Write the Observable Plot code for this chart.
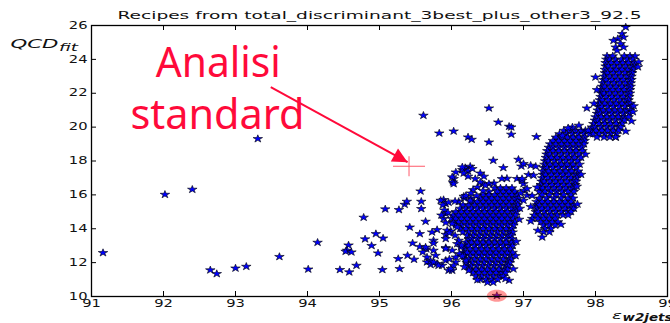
<!DOCTYPE html>
<html>
<head>
<meta charset="utf-8">
<script src="https://cdn.jsdelivr.net/npm/d3@7"></script>
<script src="https://cdn.jsdelivr.net/npm/@observablehq/plot@0.6"></script>
<style>
  html, body { margin: 0; padding: 0; background: #fff; }
  #chart { width: 670px; height: 323px; overflow: hidden; }
</style>
</head>
<body>
<div id="chart"></div>
<script>
// ---- labels and ticks ----
const title = "Recipes from total_discriminant_3best_plus_other3_92.5";
const xTicks = [91, 92, 93, 94, 95, 96, 97, 98, 99];
const yTicks = [10, 12, 14, 16, 18, 20, 22, 24, 26];
const noteLines = ["Analisi", "standard"];
const noteX = [92.76, 92.75];
const noteY = [22.95, 19.9];

// ---- isolated recipes, [eff, qcd] ----
const scattered = [
  [91.16, 12.58], [92.02, 16.02], [92.40, 16.32], [92.65, 11.56], [92.74, 11.34],
  [93.00, 11.67], [93.15, 11.77], [93.31, 19.31], [93.61, 12.35], [94.01, 11.61],
  [94.14, 13.19], [94.45, 11.58], [94.58, 11.44], [94.68, 11.83], [94.57, 13.03],
  [94.55, 12.72], [94.53, 12.66], [94.61, 12.62], [94.78, 14.67], [94.80, 13.39],
  [94.89, 13.00], [94.95, 13.70], [94.98, 12.56], [95.04, 11.58], [95.05, 13.44],
  [95.08, 15.16], [95.26, 12.23], [95.27, 15.12], [95.28, 11.64], [95.35, 15.43],
  [95.38, 15.61], [95.39, 12.42], [95.42, 14.09], [95.46, 13.15], [95.48, 12.19],
  [95.56, 13.70], [95.56, 12.94], [95.57, 16.22], [95.58, 15.61], [95.58, 15.18],
  [95.64, 14.43], [95.65, 12.80], [95.66, 12.32], [95.66, 12.03], [95.71, 11.87],
  [95.75, 12.72], [95.75, 13.31], [95.78, 12.42], [95.80, 11.93], [95.80, 13.94],
  [95.61, 20.69], [95.83, 19.64], [96.03, 19.76], [96.23, 19.41], [96.28, 19.27],
  [96.52, 21.12], [96.52, 19.11], [96.65, 20.29], [96.80, 20.04], [96.83, 20.00],
  [96.83, 19.57], [97.18, 19.43], [97.88, 21.12],
  [96.58, 18.03], [96.72, 17.60], [96.93, 18.09], [96.97, 17.69], [97.17, 17.68],
  [97.07, 17.19], [97.00, 16.65], [96.91, 16.95], [96.77, 16.97], [96.70, 16.95],
  [97.01, 16.26], [97.05, 15.97], [97.00, 15.67], [96.98, 16.85], [97.14, 17.15],
  [97.05, 16.36], [97.19, 16.45], [97.00, 17.84], [97.10, 17.74], [96.98, 16.95],
  [95.73, 13.80], [95.92, 12.88], [95.92, 12.13], [96.01, 11.54], [95.71, 12.09],
  [95.60, 12.62], [95.92, 13.66], [95.99, 13.86], [96.05, 13.60], [96.10, 13.31],
  [96.13, 12.91], [96.11, 12.52], [96.20, 12.13], [96.24, 11.54], [96.06, 12.03],
  [95.97, 12.20], [95.87, 11.83], [95.96, 11.54], [95.92, 13.41], [95.75, 13.15],
  [95.64, 12.91], [95.75, 12.03], [96.06, 12.32], [96.03, 11.83], [95.99, 11.64],
  [95.82, 11.83], [96.01, 12.72], [95.92, 12.82], [96.08, 13.11], [95.94, 13.90],
  [96.01, 14.29], [96.08, 14.09], [96.80, 10.95], [96.75, 11.05], [96.36, 10.98],
  [96.90, 13.25], [96.89, 12.40], [96.86, 11.62], [96.15, 12.38], [96.14, 13.02],
  [96.95, 15.20], [96.96, 16.10], [96.94, 14.55], [96.18, 11.75],
  [96.26, 17.68], [96.19, 17.60], [96.15, 17.48], [96.23, 17.40], [96.17, 17.28],
  [96.06, 17.34], [96.03, 16.95], [96.02, 16.75], [96.23, 17.09], [96.40, 17.28],
  [96.45, 17.09], [96.59, 16.69], [96.52, 16.65], [96.43, 16.65], [96.36, 16.45],
  [96.30, 16.30], [96.17, 15.91], [95.89, 15.71], [95.85, 15.67], [95.92, 14.89],
  [95.89, 14.59], [96.15, 17.64], [96.29, 17.54], [96.01, 17.05], [96.33, 16.95],
  [95.92, 15.47], [96.26, 15.67], [96.40, 16.75], [96.47, 16.56], [96.03, 16.65],
  [95.88, 15.40], [95.96, 15.55], [96.05, 15.62], [95.90, 15.10], [95.95, 14.95],
  [95.86, 14.80], [95.92, 14.35], [95.97, 13.75], [96.20, 15.95], [96.35, 15.95],
  [96.44, 16.25], [96.27, 16.10],
  [97.68, 20.00], [97.77, 20.10], [97.62, 19.95], [97.54, 19.50], [97.90, 19.80],
  [97.12, 15.95], [97.10, 15.30], [97.75, 15.45], [97.74, 16.50], [97.80, 17.20],
  [97.86, 18.40], [97.10, 14.45], [97.52, 14.25], [97.20, 13.90],
  [98.60, 23.85], [98.59, 23.55], [98.53, 21.25], [98.52, 20.90], [98.00, 22.95],
  [98.02, 22.20], [97.98, 21.40], [98.50, 20.35], [98.42, 19.75], [98.28, 19.41],
  [98.42, 25.90], [98.37, 25.51], [98.39, 25.31], [98.31, 25.21], [98.25, 25.11],
  [98.35, 24.92], [98.28, 24.72], [98.39, 24.72], [98.30, 24.52]
];

// ---- dense clusters, one row per line: [qcd, eff, eff, ...] ----
const centralRows = [
  [16.4, 96.60, 96.68, 96.76, 96.84],
  [16.2, 96.52, 96.64, 96.72, 96.80, 96.88],
  [16.0, 96.44, 96.52, 96.60, 96.68, 96.76, 96.84, 96.92],
  [15.8, 96.18, 96.27, 96.40, 96.48, 96.56, 96.64, 96.72, 96.80, 96.88, 96.93],
  [15.6, 96.10, 96.28, 96.36, 96.44, 96.52, 96.60, 96.68, 96.76, 96.84, 96.92],
  [15.4, 96.16, 96.24, 96.32, 96.40, 96.48, 96.56, 96.64, 96.72, 96.80, 96.88, 96.92],
  [15.2, 96.12, 96.20, 96.28, 96.36, 96.44, 96.52, 96.60, 96.68, 96.76, 96.84, 96.90],
  [15.0, 96.06, 96.14, 96.22, 96.30, 96.38, 96.46, 96.54, 96.62, 96.70, 96.78, 96.86, 96.90],
  [14.8, 96.02, 96.10, 96.18, 96.26, 96.34, 96.42, 96.50, 96.58, 96.66, 96.74, 96.82, 96.89],
  [14.6, 96.00, 96.06, 96.14, 96.22, 96.30, 96.38, 96.46, 96.54, 96.62, 96.70, 96.78, 96.86],
  [14.4, 96.02, 96.10, 96.18, 96.26, 96.34, 96.42, 96.50, 96.58, 96.66, 96.74, 96.82, 96.88],
  [14.2, 96.06, 96.14, 96.22, 96.30, 96.38, 96.46, 96.54, 96.62, 96.70, 96.78, 96.86],
  [14.0, 96.12, 96.20, 96.28, 96.36, 96.44, 96.52, 96.60, 96.68, 96.76, 96.84],
  [13.8, 96.16, 96.24, 96.32, 96.40, 96.48, 96.56, 96.64, 96.72, 96.80, 96.85],
  [13.6, 96.22, 96.30, 96.38, 96.46, 96.54, 96.62, 96.70, 96.78, 96.83],
  [13.4, 96.24, 96.28, 96.36, 96.44, 96.52, 96.60, 96.68, 96.76, 96.84],
  [13.2, 96.20, 96.28, 96.36, 96.44, 96.52, 96.60, 96.68, 96.76, 96.84],
  [13.0, 96.19, 96.24, 96.32, 96.40, 96.48, 96.56, 96.64, 96.72, 96.80, 96.85],
  [12.8, 96.18, 96.26, 96.34, 96.42, 96.50, 96.58, 96.66, 96.74, 96.82],
  [12.6, 96.17, 96.22, 96.30, 96.38, 96.46, 96.54, 96.62, 96.70, 96.78, 96.85],
  [12.4, 96.18, 96.26, 96.34, 96.42, 96.50, 96.58, 96.66, 96.74, 96.82],
  [12.2, 96.20, 96.24, 96.32, 96.40, 96.48, 96.56, 96.64, 96.72, 96.80, 96.83],
  [12.0, 96.21, 96.29, 96.37, 96.45, 96.53, 96.61, 96.69, 96.77, 96.81],
  [11.8, 96.23, 96.27, 96.35, 96.43, 96.51, 96.59, 96.67, 96.75, 96.79],
  [11.6, 96.26, 96.34, 96.42, 96.50, 96.58, 96.66, 96.74, 96.78],
  [11.4, 96.30, 96.38, 96.46, 96.54, 96.62, 96.70, 96.75],
  [11.2, 96.34, 96.42, 96.50, 96.58, 96.66, 96.72],
  [11.0, 96.40, 96.48, 96.56, 96.64],
  [10.83, 96.50, 96.58]
];

const rightRows = [
  [19.8, 97.56, 97.64, 97.72, 97.80, 97.86],
  [19.6, 97.50, 97.60, 97.68, 97.76, 97.84],
  [19.4, 97.45, 97.53, 97.61, 97.69, 97.77, 97.85],
  [19.2, 97.41, 97.49, 97.57, 97.65, 97.73, 97.81, 97.85],
  [19.0, 97.37, 97.45, 97.53, 97.61, 97.69, 97.77, 97.84],
  [18.8, 97.35, 97.41, 97.49, 97.57, 97.65, 97.73, 97.81],
  [18.6, 97.33, 97.41, 97.49, 97.57, 97.65, 97.73, 97.82],
  [18.4, 97.32, 97.37, 97.45, 97.53, 97.61, 97.69, 97.77],
  [18.2, 97.31, 97.39, 97.47, 97.55, 97.63, 97.71, 97.80],
  [18.0, 97.30, 97.35, 97.43, 97.51, 97.59, 97.67, 97.75],
  [17.8, 97.29, 97.37, 97.45, 97.53, 97.61, 97.69, 97.78],
  [17.6, 97.28, 97.33, 97.41, 97.49, 97.57, 97.65, 97.73],
  [17.4, 97.27, 97.35, 97.43, 97.51, 97.59, 97.67, 97.76],
  [17.2, 97.27, 97.31, 97.39, 97.47, 97.55, 97.63, 97.71, 97.75],
  [17.0, 97.26, 97.34, 97.42, 97.50, 97.58, 97.66, 97.74],
  [16.8, 97.25, 97.29, 97.37, 97.45, 97.53, 97.61, 97.69, 97.73],
  [16.6, 97.24, 97.32, 97.40, 97.48, 97.56, 97.64, 97.72],
  [16.4, 97.23, 97.27, 97.35, 97.43, 97.51, 97.59, 97.67, 97.71],
  [16.2, 97.22, 97.30, 97.38, 97.46, 97.54, 97.62, 97.70],
  [16.0, 97.26, 97.36, 97.46, 97.56, 97.66],
  [15.8, 97.22, 97.32, 97.42, 97.52, 97.62, 97.69],
  [15.6, 97.18, 97.26, 97.34, 97.42, 97.50, 97.58, 97.66],
  [15.4, 97.18, 97.22, 97.30, 97.38, 97.46, 97.54, 97.62, 97.70],
  [15.2, 97.18, 97.26, 97.34, 97.42, 97.50, 97.58, 97.66, 97.70],
  [15.0, 97.17, 97.21, 97.29, 97.37, 97.45, 97.53, 97.61, 97.66],
  [14.8, 97.15, 97.23, 97.31, 97.39, 97.47, 97.55, 97.62],
  [14.6, 97.12, 97.20, 97.28, 97.36, 97.44],
  [14.4, 97.24, 97.32, 97.40, 97.48],
  [14.2, 97.28, 97.36, 97.44],
  [14.0, 97.30, 97.38],
  [13.8, 97.28, 97.36],
  [13.5, 97.26]
];

const topRows = [
  [24.2, 98.16, 98.24, 98.40, 98.48, 98.55],
  [24.0, 98.15, 98.20, 98.28, 98.36, 98.44, 98.52],
  [23.8, 98.14, 98.22, 98.30, 98.38, 98.46, 98.54],
  [23.6, 98.14, 98.18, 98.26, 98.34, 98.42, 98.50, 98.54],
  [23.4, 98.13, 98.21, 98.29, 98.37, 98.45, 98.52],
  [23.2, 98.13, 98.17, 98.25, 98.33, 98.41, 98.49, 98.51],
  [23.0, 98.12, 98.20, 98.28, 98.36, 98.44, 98.50],
  [22.8, 98.11, 98.15, 98.23, 98.31, 98.39, 98.47, 98.50],
  [22.6, 98.10, 98.18, 98.26, 98.34, 98.42, 98.49],
  [22.4, 98.09, 98.13, 98.21, 98.29, 98.37, 98.45, 98.49],
  [22.2, 98.08, 98.16, 98.24, 98.32, 98.40, 98.48],
  [22.0, 98.08, 98.12, 98.20, 98.28, 98.36, 98.44, 98.48],
  [21.8, 98.07, 98.15, 98.23, 98.31, 98.39, 98.47],
  [21.6, 98.06, 98.10, 98.18, 98.26, 98.34, 98.42, 98.46],
  [21.4, 98.05, 98.13, 98.21, 98.29, 98.37, 98.45, 98.49],
  [21.2, 98.04, 98.09, 98.17, 98.25, 98.33, 98.41, 98.50],
  [21.0, 98.03, 98.11, 98.19, 98.27, 98.35, 98.43, 98.48],
  [20.8, 98.02, 98.07, 98.15, 98.23, 98.31, 98.39, 98.47],
  [20.6, 98.00, 98.08, 98.16, 98.24, 98.32, 98.40, 98.46],
  [20.4, 97.99, 98.04, 98.12, 98.20, 98.28, 98.36, 98.40],
  [20.2, 97.97, 98.05, 98.13, 98.21, 98.29, 98.37],
  [20.0, 97.95, 98.00, 98.08, 98.16, 98.24, 98.32, 98.35],
  [19.8, 97.93, 98.01, 98.09, 98.17, 98.25, 98.32],
  [19.6, 97.92, 97.97, 98.05, 98.13, 98.21, 98.29],
  [19.4, 98.02, 98.12, 98.20, 98.28]
];

// ---- "standard analysis" annotation and the highlighted recipe ----
const standardPoint = [95.41, 17.69];
const arrowTail = [93.49, 22.36];
const arrowTip = [95.39, 17.93];
const bestPoint = [96.63, 10.05];

// ---- assemble the point table ----
const fromRows = rows => rows.flatMap(([q, ...effs]) => effs.map(e => ({x: e, y: q})));
const recipes = [
  ...fromRows(centralRows),
  ...fromRows(rightRows),
  ...fromRows(topRows),
  ...scattered.map(([x, y]) => ({x, y})),
  {x: bestPoint[0], y: bestPoint[1]}
];

// star marker, slightly wider than tall
const wideStar = {
  draw(ctx, size) {
    const sx = 1.25;
    d3.symbolStar.draw({
      moveTo: (x, y) => ctx.moveTo(x * sx, y),
      lineTo: (x, y) => ctx.lineTo(x * sx, y),
      closePath: () => ctx.closePath()
    }, size);
  }
};
// thin cross for the reference analysis
const thinPlus = {
  draw(ctx) {
    ctx.moveTo(-16, 0); ctx.lineTo(16, 0);
    ctx.moveTo(0, -10); ctx.lineTo(0, 10);
  }
};
// flat ellipse around the best recipe
const flatEllipse = {
  draw(ctx) {
    const rx = 10, ry = 6, k = 0.5523;
    ctx.moveTo(rx, 0);
    ctx.bezierCurveTo(rx, ry * k, rx * k, ry, 0, ry);
    ctx.bezierCurveTo(-rx * k, ry, -rx, ry * k, -rx, 0);
    ctx.bezierCurveTo(-rx, -ry * k, -rx * k, -ry, 0, -ry);
    ctx.bezierCurveTo(rx * k, -ry, rx, -ry * k, rx, 0);
    ctx.closePath();
  }
};
// filled arrow head, tip at the origin, pointing down-right
const arrowHead = {
  draw(ctx) {
    const a = 28.6 * Math.PI / 180, c = Math.cos(a), s = Math.sin(a);
    const pts = [[0, 0], [-15, -7.5], [-15, 7.5]].map(([x, y]) => [x * c - y * s, x * s + y * c]);
    ctx.moveTo(...pts[0]); ctx.lineTo(...pts[1]); ctx.lineTo(...pts[2]); ctx.closePath();
  }
};

const W = 670, H = 323, mL = 91, mR = 3, mT = 25, mB = 27;
const innerW = W - mL - mR, innerH = H - mT - mB;
const red = "#ff0a3a";
const tickLen = 5;

const chart = Plot.plot({
  width: W, height: H,
  marginLeft: mL, marginRight: mR, marginTop: mT, marginBottom: mB,
  style: {fontFamily: "'DejaVu Sans', sans-serif", fontSize: "10px", color: "#111", background: "#fff"},
  x: {domain: [91, 99], ticks: xTicks, tickSize: 0, tickPadding: 3, label: null, tickFormat: d => String(d)},
  y: {domain: [10, 26], ticks: yTicks, tickSize: 0, tickPadding: 4, label: null, tickFormat: d => String(d)},
  marks: [
    Plot.dot(recipes, {x: "x", y: "y", symbol: wideStar, r: 2.4, fill: "#0000ff", stroke: "#000", strokeWidth: 0.6}),
    Plot.dot([bestPoint], {x: d => d[0], y: d => d[1], symbol: flatEllipse, fill: "#ff1a1a", fillOpacity: 0.45, stroke: "none"}),
    Plot.dot([standardPoint], {x: d => d[0], y: d => d[1], symbol: thinPlus, fill: "none", stroke: "#ff5a6a", strokeWidth: 1}),
    Plot.link([[arrowTail, arrowTip]], {x1: d => d[0][0], y1: d => d[0][1], x2: d => d[1][0], y2: d => d[1][1], stroke: red, strokeWidth: 2}),
    Plot.dot([arrowTip], {x: d => d[0], y: d => d[1], symbol: arrowHead, fill: red, stroke: "none"}),
    Plot.text(noteLines, {x: (d, i) => noteX[i], y: (d, i) => noteY[i], text: d => d, textAnchor: "middle", lineAnchor: "bottom",
      fontSize: 41, fill: red, fontFamily: "'Noto Sans', sans-serif"}),
    // inward ticks on all four sides
    Plot.tickX(xTicks, {x: d => d, insetTop: innerH - tickLen, stroke: "#000"}),
    Plot.tickX(xTicks, {x: d => d, insetBottom: innerH - tickLen, stroke: "#000"}),
    Plot.tickY(yTicks, {y: d => d, insetRight: innerW - tickLen, stroke: "#000"}),
    Plot.tickY(yTicks, {y: d => d, insetLeft: innerW - tickLen, stroke: "#000"}),
    Plot.frame({stroke: "#000", strokeWidth: 1.3}),
    // title and axis labels
    Plot.text([title], {frameAnchor: "top", dy: -6.5, lineAnchor: "bottom", fontSize: 10.5, fill: "#111"}),
    Plot.text(["QCD"], {frameAnchor: "top-left", textAnchor: "start", lineAnchor: "bottom", dx: -81, dy: 22.3, fontSize: 13, fontStyle: "italic", fill: "#111"}),
    Plot.text(["fit"], {frameAnchor: "top-left", textAnchor: "start", lineAnchor: "bottom", dx: -32.5, dy: 25.7, fontSize: 10, fontStyle: "italic", fill: "#111"}),
    Plot.text(["ε"], {frameAnchor: "bottom-right", textAnchor: "start", lineAnchor: "bottom", dx: -55.5, dy: 22.5, fontSize: 11, fontStyle: "italic", fill: "#111"}),
    Plot.text(["w2jets"], {frameAnchor: "bottom-right", textAnchor: "start", lineAnchor: "bottom", dx: -45, dy: 24.5, fontSize: 11, fontStyle: "italic", fontWeight: "bold", fill: "#111"})
  ]
});

document.getElementById("chart").append(chart);

// widen the lettering the way the figure was rendered
const fixedWidths = new Map([
  [title, 524], ["QCD", 48], ["fit", 19], ["ε", 10], ["w2jets", 50],
  ["Analisi", 125], ["standard", 174]
]);
chart.querySelectorAll("text").forEach(t => {
  const s = t.textContent;
  const len = t.getComputedTextLength();
  if (!len) return;
  const target = fixedWidths.has(s) ? fixedWidths.get(s) : len * 1.47;
  t.setAttribute("textLength", target);
  t.setAttribute("lengthAdjust", "spacingAndGlyphs");
});
</script>
</body>
</html>
